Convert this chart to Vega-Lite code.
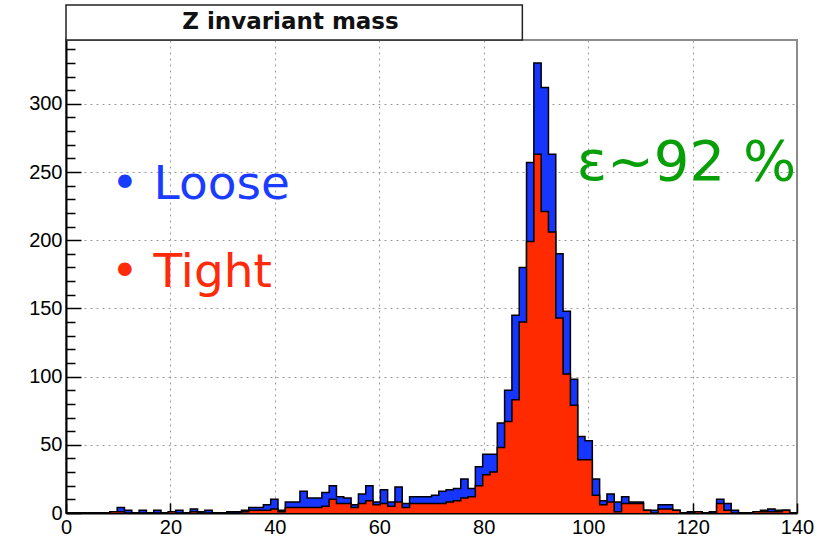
{
  "$schema": "https://vega.github.io/schema/vega-lite/v6.json",
  "width": 731,
  "height": 473,
  "autosize": {"type": "none"},
  "padding": {"left": 66, "top": 40, "right": 20, "bottom": 27},
  "background": "white",
  "config": {
    "view": {"stroke": "#8c8c8c", "strokeWidth": 2},
    "font": "Liberation Sans",
    "axisX": {"tickCount": 14, "labelOverlap": false, "labelFlush": false, "labelBound": false, "title": null},
    "axisY": {"tickCount": 35, "labelOverlap": false, "labelFlush": false, "labelBound": false, "title": null}
  },
  "datasets": {
    "h": [
      {"x": 0, "loose": 0, "tight": 0}, {"x": 1.4, "loose": 0, "tight": 0}, {"x": 2.8, "loose": 0, "tight": 0},
      {"x": 4.2, "loose": 0, "tight": 0}, {"x": 5.6, "loose": 0, "tight": 0}, {"x": 7, "loose": 0, "tight": 0},
      {"x": 8.4, "loose": 1, "tight": 1}, {"x": 9.8, "loose": 4, "tight": 1}, {"x": 11.2, "loose": 2, "tight": 0},
      {"x": 12.6, "loose": 0, "tight": 0}, {"x": 14, "loose": 2, "tight": 0}, {"x": 15.4, "loose": 0, "tight": 0},
      {"x": 16.8, "loose": 2, "tight": 0}, {"x": 18.2, "loose": 0, "tight": 0}, {"x": 19.6, "loose": 1, "tight": 1},
      {"x": 21, "loose": 2, "tight": 0}, {"x": 22.4, "loose": 0, "tight": 0}, {"x": 23.8, "loose": 3, "tight": 1},
      {"x": 25.2, "loose": 1, "tight": 0}, {"x": 26.6, "loose": 2, "tight": 0}, {"x": 28, "loose": 0, "tight": 0},
      {"x": 29.4, "loose": 0, "tight": 0}, {"x": 30.8, "loose": 1, "tight": 0}, {"x": 32.2, "loose": 1, "tight": 0},
      {"x": 33.6, "loose": 2, "tight": 1}, {"x": 35, "loose": 4, "tight": 2}, {"x": 36.4, "loose": 4, "tight": 2},
      {"x": 37.8, "loose": 6, "tight": 2}, {"x": 39.2, "loose": 10, "tight": 3}, {"x": 40.6, "loose": 2, "tight": 1},
      {"x": 42, "loose": 8, "tight": 4}, {"x": 43.4, "loose": 8, "tight": 4}, {"x": 44.8, "loose": 16, "tight": 4},
      {"x": 46.2, "loose": 11, "tight": 4}, {"x": 47.6, "loose": 11, "tight": 4}, {"x": 49, "loose": 15, "tight": 5},
      {"x": 50.4, "loose": 20, "tight": 10}, {"x": 51.8, "loose": 12, "tight": 7}, {"x": 53.2, "loose": 11, "tight": 7},
      {"x": 54.6, "loose": 6, "tight": 4}, {"x": 56, "loose": 14, "tight": 7}, {"x": 57.4, "loose": 20, "tight": 9},
      {"x": 58.8, "loose": 8, "tight": 6}, {"x": 60.2, "loose": 17, "tight": 7}, {"x": 61.6, "loose": 8, "tight": 5},
      {"x": 63, "loose": 19, "tight": 8}, {"x": 64.4, "loose": 7, "tight": 4}, {"x": 65.8, "loose": 12, "tight": 7},
      {"x": 67.2, "loose": 12, "tight": 7}, {"x": 68.6, "loose": 12, "tight": 7}, {"x": 70, "loose": 13, "tight": 7},
      {"x": 71.4, "loose": 16, "tight": 7}, {"x": 72.8, "loose": 17, "tight": 8}, {"x": 74.2, "loose": 18, "tight": 9},
      {"x": 75.6, "loose": 25, "tight": 11}, {"x": 77, "loose": 18, "tight": 12}, {"x": 78.4, "loose": 34, "tight": 20},
      {"x": 79.8, "loose": 43, "tight": 28}, {"x": 81.2, "loose": 43, "tight": 30}, {"x": 82.6, "loose": 66, "tight": 48},
      {"x": 84, "loose": 90, "tight": 67}, {"x": 85.4, "loose": 145, "tight": 83}, {"x": 86.8, "loose": 180, "tight": 140},
      {"x": 88.2, "loose": 257, "tight": 199}, {"x": 89.6, "loose": 330, "tight": 263}, {"x": 91, "loose": 312, "tight": 221},
      {"x": 92.4, "loose": 263, "tight": 206}, {"x": 93.8, "loose": 190, "tight": 143}, {"x": 95.2, "loose": 148, "tight": 102},
      {"x": 96.6, "loose": 98, "tight": 79}, {"x": 98, "loose": 56, "tight": 39}, {"x": 99.4, "loose": 53, "tight": 39},
      {"x": 100.8, "loose": 25, "tight": 13}, {"x": 102.2, "loose": 9, "tight": 6}, {"x": 103.6, "loose": 14, "tight": 8},
      {"x": 105, "loose": 8, "tight": 1}, {"x": 106.4, "loose": 12, "tight": 7}, {"x": 107.8, "loose": 8, "tight": 7},
      {"x": 109.2, "loose": 8, "tight": 7}, {"x": 110.6, "loose": 2, "tight": 2}, {"x": 112, "loose": 2, "tight": 0},
      {"x": 113.4, "loose": 6, "tight": 3}, {"x": 114.8, "loose": 6, "tight": 3}, {"x": 116.2, "loose": 2, "tight": 2},
      {"x": 117.6, "loose": 0, "tight": 0}, {"x": 119, "loose": 1, "tight": 0}, {"x": 120.4, "loose": 1, "tight": 1},
      {"x": 121.8, "loose": 0, "tight": 0}, {"x": 123.2, "loose": 1, "tight": 0}, {"x": 124.6, "loose": 10, "tight": 7},
      {"x": 126, "loose": 7, "tight": 2}, {"x": 127.4, "loose": 2, "tight": 0}, {"x": 128.8, "loose": 0, "tight": 0},
      {"x": 130.2, "loose": 0, "tight": 0}, {"x": 131.6, "loose": 1, "tight": 1}, {"x": 133, "loose": 2, "tight": 1},
      {"x": 134.4, "loose": 3, "tight": 1}, {"x": 135.8, "loose": 2, "tight": 1}, {"x": 137.2, "loose": 2, "tight": 2},
      {"x": 138.6, "loose": 0, "tight": 0}, {"x": 140, "loose": 0, "tight": 0}
    ]
  },
  "layer": [
    {
      "data": {"name": "h"},
      "mark": {"type": "area", "interpolate": "step-after", "color": "#1636ff", "opacity": 1, "line": {"color": "black", "strokeWidth": 1.5}},
      "encoding": {
        "x": {
          "field": "x", "type": "quantitative",
          "scale": {"domain": [0, 140], "nice": false, "zero": true},
          "axis": {
            "title": null,
            "values": [0, 10, 20, 30, 40, 50, 60, 70, 80, 90, 100, 110, 120, 130, 140],
            "tickCount": 14,
            "labelExpr": "datum.value % 20 === 0 ? datum.label : ''",
            "labelFlush": false, "labelOverlap": false, "labelBound": false,
            "labelFont": "Liberation Sans", "labelFontSize": 20, "labelColor": "black",
            "labelPadding": 14,
            "domainColor": "black", "domainWidth": 2,
            "tickColor": "black", "tickWidth": 1.5,
            "tickSize": {"condition": {"test": "datum.value % 20 === 0", "value": -10}, "value": -6},
            "grid": true, "gridColor": "#9a9a9a", "gridDash": [2, 4], "gridWidth": 1,
            "gridOpacity": {"condition": {"test": "datum.value % 20 === 0 && datum.value > 0 && datum.value < 140", "value": 1}, "value": 0}
          }
        },
        "y": {
          "field": "loose", "type": "quantitative",
          "scale": {"domain": [0, 346.8], "nice": false},
          "axis": {
            "title": null,
            "values": [0, 10, 20, 30, 40, 50, 60, 70, 80, 90, 100, 110, 120, 130, 140, 150, 160, 170, 180, 190, 200, 210, 220, 230, 240, 250, 260, 270, 280, 290, 300, 310, 320, 330, 340],
            "tickCount": 35,
            "labelExpr": "datum.value % 50 === 0 ? datum.label : ''",
            "labelOverlap": false, "labelBound": false, "labelFlush": false,
            "labelFont": "Liberation Sans", "labelFontSize": 20, "labelColor": "black",
            "labelPadding": 19,
            "domainColor": "black", "domainWidth": 2,
            "tickColor": "black", "tickWidth": 1.5,
            "tickSize": {"condition": {"test": "datum.value % 50 === 0", "value": -15}, "value": -9},
            "grid": true, "gridColor": "#9a9a9a", "gridDash": [2, 4], "gridWidth": 1,
            "gridOpacity": {"condition": {"test": "datum.value % 50 === 0 && datum.value > 0", "value": 1}, "value": 0}
          }
        }
      }
    },
    {
      "data": {"name": "h"},
      "mark": {"type": "area", "interpolate": "step-after", "color": "#ff2a00", "opacity": 1, "line": {"color": "black", "strokeWidth": 1.5}},
      "encoding": {
        "x": {"field": "x", "type": "quantitative"},
        "y": {"field": "tight", "type": "quantitative"}
      }
    },
    {
      "data": {"values": [{}]},
      "mark": {"type": "rect", "fill": "white", "stroke": "#222222", "strokeWidth": 1.5, "clip": false},
      "encoding": {
        "x": {"datum": 0, "type": "quantitative"},
        "x2": {"datum": 87.4},
        "y": {"datum": 346.8, "type": "quantitative"},
        "y2": {"datum": 372.4}
      }
    },
    {
      "data": {"values": [{}]},
      "mark": {"type": "text", "text": "Z invariant mass", "font": "DejaVu Sans", "fontWeight": "bold", "fontSize": 23, "align": "center", "baseline": "middle", "color": "#111111", "clip": false},
      "encoding": {
        "x": {"datum": 43.0, "type": "quantitative"},
        "y": {"datum": 359.8, "type": "quantitative"}
      }
    },
    {
      "data": {"values": [{}]},
      "mark": {"type": "text", "text": "• Loose", "font": "DejaVu Sans", "fontSize": 47, "align": "left", "baseline": "alphabetic", "color": "#1a3cff"},
      "encoding": {
        "x": {"datum": 8.6, "type": "quantitative"},
        "y": {"datum": 230, "type": "quantitative"}
      }
    },
    {
      "data": {"values": [{}]},
      "mark": {"type": "text", "text": "• Tight", "font": "DejaVu Sans", "fontSize": 47, "align": "left", "baseline": "alphabetic", "color": "#ff2a0a"},
      "encoding": {
        "x": {"datum": 8.6, "type": "quantitative"},
        "y": {"datum": 166, "type": "quantitative"}
      }
    },
    {
      "data": {"values": [{}]},
      "mark": {"type": "text", "text": "ε~92 %", "font": "DejaVu Sans", "fontSize": 56, "align": "left", "baseline": "alphabetic", "color": "#079f07", "clip": false},
      "encoding": {
        "x": {"datum": 97.8, "type": "quantitative"},
        "y": {"datum": 244, "type": "quantitative"}
      }
    }
  ]
}
